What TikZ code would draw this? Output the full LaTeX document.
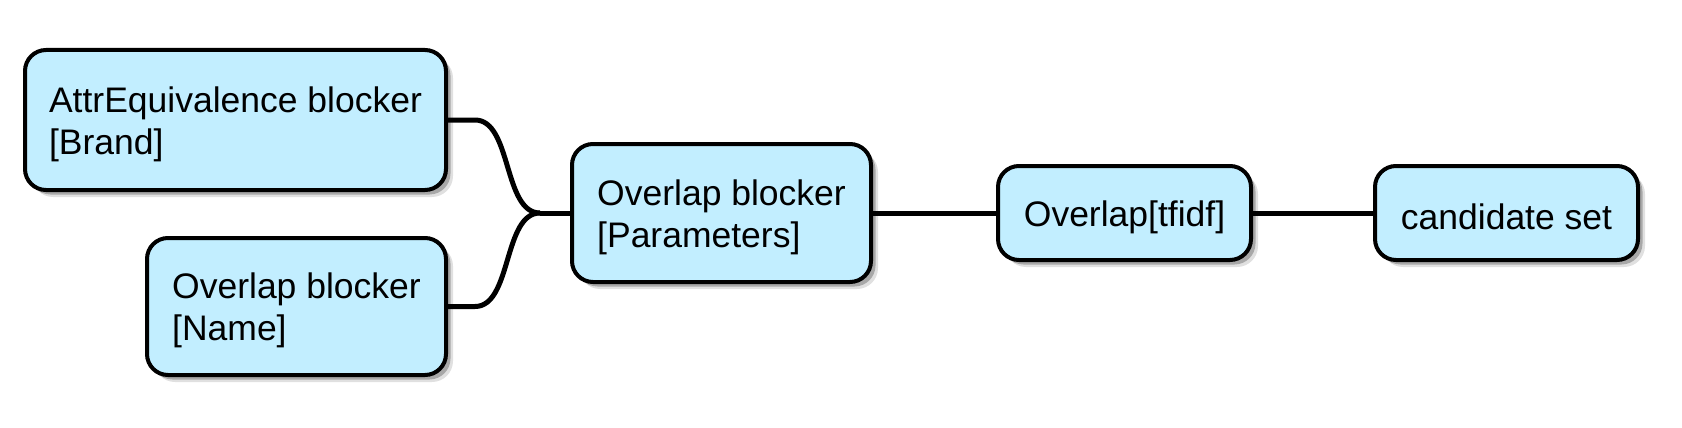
\documentclass[tikz,border=0pt]{standalone}
\usepackage{fontspec}
\setmainfont{Liberation Sans}
\usetikzlibrary{shadows,calc}
\definecolor{nodefill}{RGB}{194,238,255}
\newcommand\mytstrut{\rule{0pt}{34pt}}
\tikzset{
  mmbox/.style={draw=black, line width=4pt, fill=nodefill, rounded corners=21pt,
    align=left, inner sep=0pt, font=\fontsize{35.5}{42}\selectfont,
    drop shadow={shadow xshift=7pt, shadow yshift=-7pt, fill=black, opacity=0.12},
    drop shadow={shadow xshift=4.5pt, shadow yshift=-4.5pt, fill=black, opacity=0.25}},
  link/.style={line width=5pt, draw=black}
}
\begin{document}
\begin{tikzpicture}[x=1pt,y=-1pt]
\useasboundingbox (0,0) rectangle (1682,428);
\node[mmbox, minimum width=421pt, minimum height=140pt] (b1) at (235.5,120) {\mytstrut AttrEquivalence blocker\\{[Brand]}};
\node[mmbox, minimum width=299pt, minimum height=137pt] (b2) at (296.5,306.5) {\mytstrut Overlap blocker\\{[Name]}};
\node[mmbox, minimum width=299pt, minimum height=138pt] (b3) at (721.5,213) {\mytstrut Overlap blocker\\{[Parameters]}};
\node[mmbox, minimum width=253pt, minimum height=94pt] (b4) at (1124.5,213) {\mytstrut Overlap[tfidf]};
\node[mmbox, minimum width=263pt, minimum height=94pt] (b5) at (1506.5,213) {\mytstrut candidate set};
\coordinate (j) at (540,213);
\draw[link] (b1.east) -- ++(27,0) coordinate (s1) .. controls ($(s1)+(37,0)$) and ($(j)+(-37,0)$) .. (j);
\draw[link] (b2.east) -- ++(27,0) coordinate (s2) .. controls ($(s2)+(37,0)$) and ($(j)+(-37,0)$) .. (j);
\draw[link] (j) -- (b3.west);
\draw[link] (b3.east) -- (b4.west);
\draw[link] (b4.east) -- (b5.west);
\end{tikzpicture}
\end{document}
